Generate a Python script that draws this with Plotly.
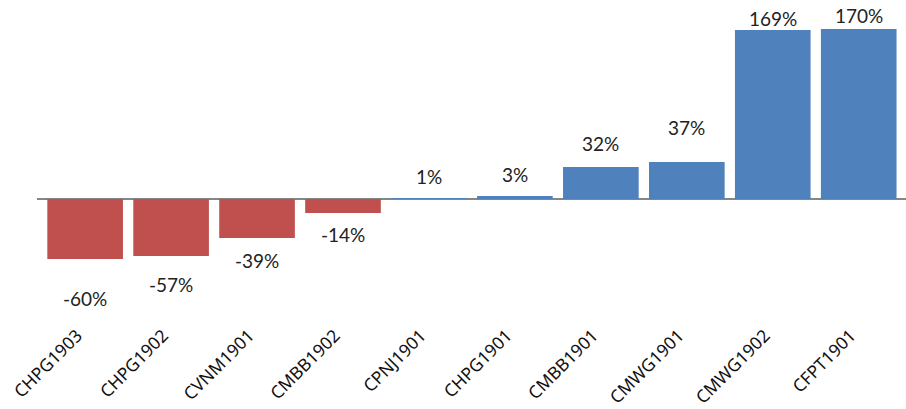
import plotly.graph_objects as go

# Contract codes and their percentage change
categories = ["CHPG1903", "CHPG1902", "CVNM1901", "CMBB1902", "CPNJ1901",
              "CHPG1901", "CMBB1901", "CMWG1901", "CMWG1902", "CFPT1901"]
changes = [-60, -57, -39, -14, 1, 3, 32, 37, 169, 170]

# Vertical offset (px) of each value label from the bar end
label_offsets = [39, 28, 22, 21, 22, 22, 24, 35, 12, 14]

RED = "#C0504D"
BLUE = "#4F81BD"

colors = [RED if v < 0 else BLUE for v in changes]

fig = go.Figure()
fig.add_trace(go.Bar(
    x=categories,
    y=changes,
    marker=dict(color=colors, line=dict(width=0)),
    width=0.88,
    hoverinfo="skip",
))

for cat, v, off in zip(categories, changes, label_offsets):
    fig.add_annotation(
        x=cat, y=v, text=f"{v}%", showarrow=False,
        yshift=off if v >= 0 else -off,
        yanchor="middle", xanchor="center",
        font=dict(family="Lato", size=19, color="#222222"),
    )

fig.update_layout(
    width=906, height=409,
    margin=dict(l=37, r=0, t=0, b=88),
    paper_bgcolor="white", plot_bgcolor="white",
    showlegend=False,
    bargap=0.12,
    xaxis=dict(
        range=[-0.56, 9.55],
        tickangle=-45,
        tickfont=dict(family="Noto Sans", size=17.5, color="#111111"),
        ticklabelshift=-8,
        automargin=False,
        showgrid=False, showline=False, ticks="",
    ),
    yaxis=dict(
        range=[-122, 199],
        showticklabels=False, showgrid=False, showline=False,
        zeroline=True, zerolinecolor="#868686", zerolinewidth=2,
        layer="above traces",
    ),
)

fig.write_html("out.html")
